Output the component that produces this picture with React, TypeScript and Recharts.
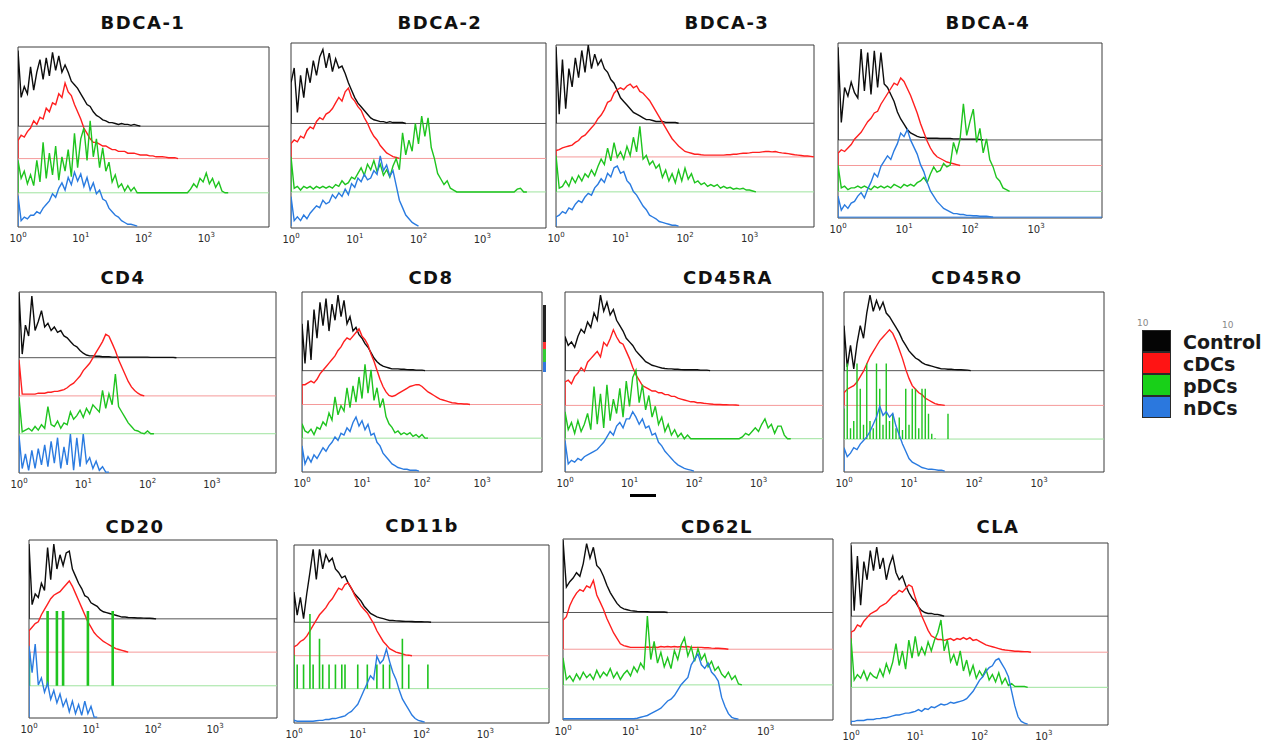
import React from 'react';
import { LineChart, Line, XAxis, YAxis, ReferenceLine, ReferenceArea } from 'recharts';

// Fluorescence axis: 20 channels per decade, 10^0 .. 10^4
const CHANNELS_PER_DECADE = 20;
const CHANNEL_MAX = 80;
const TICK_EXPONENTS = [0, 1, 2, 3];

const POPULATIONS = ['Control', 'cDCs', 'pDCs', 'nDCs'];
const PANEL_TITLES = ['BDCA-1', 'BDCA-2', 'BDCA-3', 'BDCA-4', 'CD4', 'CD8', 'CD45RA', 'CD45RO', 'CD20', 'CD11b', 'CD62L', 'CLA'];

// Event counts per channel (as % of panel height), starting at channel 0.
const bdca1Control = [42, 16, 22, 18, 33, 20, 30, 37, 26, 38, 28, 41, 31, 39, 30, 34, 30, 25, 23, 21, 18, 15, 12, 11, 8, 6, 5, 3.5, 3, 2, 2, 1.5, 1, 1.5, 1, 1, 0.5, 1, 0.5];
const bdca1Cdc = [10, 13, 12, 15, 17, 21, 19, 23, 22, 28, 26, 31, 30, 36, 34, 42, 37, 35, 30, 26, 22, 17, 14, 11, 9, 9, 8, 7, 7, 6, 5, 5, 4, 4, 4, 3, 3, 3, 2.5, 2, 2, 2, 1.5, 1.5, 1, 1, 1, 0.8, 0.5, 0.5, 0.5];
const bdca1Pdc = [18, 8, 12, 5, 10, 4, 18, 6, 28, 8, 22, 10, 26, 7, 20, 12, 24, 9, 33, 14, 30, 36, 18, 40, 20, 30, 14, 25, 12, 17, 6, 10, 3, 5, 1, 4, 1, 3, 0, 0, 0, 0, 0, 0, 0, 0, 0, 0, 0, 0, 0, 0, 0, 0, 0, 2, 5, 3, 8, 6, 11, 5, 8, 3, 6, 1, 0];
const bdca1Ndc = [17, 3, 5, 4, 6, 6, 8, 7, 10, 12, 14, 18, 16, 21, 24, 20, 27, 23, 30, 25, 29, 22, 27, 20, 24, 18, 20, 15, 14, 10, 8, 6, 5, 3, 2, 1, 1, 0.5];

const bdca2Control = [22, 30, 6, 26, 14, 30, 22, 34, 26, 36, 40, 30, 38, 28, 35, 30, 31, 27, 22, 18, 14, 11, 9, 7, 5, 3, 2, 1.5, 1, 1, 0.5, 1, 0.5, 0.5, 0.5, 0.5];
const bdca2Cdc = [8, 10, 9, 12, 11, 15, 17, 16, 20, 22, 21, 24, 25, 27, 30, 33, 31, 36, 38, 33, 31, 28, 26, 22, 19, 15, 12, 10, 7, 5, 3, 2, 1, 0.5];
const bdca2Pdc = [19, 2, 3, 1, 3, 2, 3, 1.5, 3, 2, 3, 2, 3, 2, 4, 3, 6, 4, 5, 8, 7, 10, 13, 9, 15, 12, 17, 11, 15, 9, 12, 8, 14, 18, 12, 32, 20, 28, 22, 37, 26, 41, 30, 40, 24, 18, 10, 7, 4, 6, 2, 1, 0, 0, 0, 0, 0, 0, 0, 0, 0, 0, 0, 0, 0, 0, 0, 0, 0, 0, 0, 1.5, 2, 0];
const bdca2Ndc = [16, 3, 5, 3, 6, 4, 7, 9, 11, 10, 14, 12, 13, 17, 15, 18, 16, 20, 17, 23, 21, 26, 24, 28, 25, 26, 30, 28, 38, 30, 33, 27, 30, 22, 14, 10, 6, 4, 2, 1];

const bdca3Control = [42, 5, 35, 8, 30, 20, 36, 25, 40, 28, 43, 30, 38, 32, 35, 30, 28, 24, 22, 18, 14, 12, 10, 8, 6, 5, 4, 3, 2, 2, 1.5, 1, 1, 1, 0.5, 0.5, 0.5, 0.5];
const bdca3Cdc = [3.5, 4, 5, 5.5, 6, 6.5, 8, 9, 11, 12, 14, 16, 18, 21, 23, 26, 30, 31, 35, 37, 38, 37, 39, 40, 38, 39, 36, 35, 33, 31, 28, 25, 22, 19, 16, 13, 10, 8, 6, 4.5, 3, 2.5, 2, 1.5, 1.5, 1.2, 1, 1, 1, 1, 1, 1, 1, 1.2, 1.2, 1.5, 1.5, 1.8, 2, 2, 2.2, 2.5, 2.5, 2.5, 2.8, 3, 3, 2.8, 3, 2.5, 2.2, 2, 1.8, 1.5, 1.2, 1, 0.8, 0.5, 0.5, 0.3];
const bdca3Pdc = [20, 2, 3, 6, 3, 8, 5, 9, 6, 10, 8, 12, 9, 14, 18, 15, 24, 17, 27, 19, 22, 18, 25, 20, 30, 22, 36, 18, 20, 15, 17, 13, 15, 8, 12, 6, 10, 5, 12, 6, 13, 7, 10, 5, 6, 4, 5, 3, 4, 3, 4, 2, 3, 2, 2.5, 1.5, 2, 1.5, 2, 1, 1, 0.5];
const bdca3Ndc = [5, 6, 8, 7, 10, 9, 12, 14, 13, 16, 18, 17, 21, 23, 26, 24, 29, 27, 32, 33, 29, 30, 25, 23, 19, 17, 14, 11, 9, 6, 5, 4, 2.5, 2, 1.5, 1, 0.5, 0.5];

const bdca4Control = [53, 10, 30, 25, 33, 27, 24, 52, 28, 50, 26, 51, 30, 50, 32, 30, 26, 22, 16, 12, 9, 6, 4, 3, 2, 1.5, 1.5, 1, 1, 1, 1, 0.8, 0.8, 0.8, 0.8, 0.6, 0.6, 0.6, 0.5, 0.5, 0.5, 0.5, 0.5, 0.3];
const bdca4Cdc = [7, 9, 8, 10, 12, 15, 17, 19, 22, 25, 27, 30, 31, 35, 38, 41, 44, 47, 46, 50, 48, 44, 40, 35, 30, 24, 19, 14, 10, 7, 5, 4, 3, 2, 1.5, 1, 0.5];
const bdca4Pdc = [15, 2, 3, 1, 2, 2, 3, 2, 3, 2, 1, 3, 2, 3, 2, 3, 2, 4, 3, 2, 4, 3, 4, 3, 5, 6, 8, 5, 10, 14, 11, 12, 16, 14, 15, 28, 22, 30, 50, 32, 40, 47, 28, 36, 22, 30, 18, 14, 8, 6, 2, 1];
const bdca4Ndc = [12, 4, 7, 5, 8, 9, 12, 14, 11, 16, 20, 25, 23, 29, 32, 35, 33, 38, 42, 48, 46, 50, 44, 40, 36, 30, 26, 20, 15, 12, 9, 7, 5, 4, 3, 2, 2, 1.5, 1.5, 1, 1, 0.8, 0.8, 0.5, 0.5, 0.5, 0.3];

const cd4Control = [36, 2, 18, 12, 34, 15, 20, 26, 17, 19, 15, 17, 14, 15, 12, 11, 9, 7, 6, 4, 2.5, 1.5, 1, 1, 0.8, 0.8, 0.5, 0.5, 0.5, 0.3, 0.3, 0.3, 0.3, 0.3, 0.3, 0.3, 0.3, 0.3, 0.3, 0.3, 0.3, 0.2, 0.2, 0.2, 0.2, 0.2, 0.2, 0.2, 0.2];
const cd4Cdc = [20, 1, 1, 1, 1, 1, 1.5, 1.5, 1.5, 2, 2, 2.5, 2.5, 3, 3.5, 4.5, 6, 7, 9, 11, 14, 16, 18, 21, 24, 27, 30, 34, 33, 29, 25, 20, 16, 12, 8, 5, 3, 1.5, 0.5];
const cd4Pdc = [20, 1, 2, 3, 1.5, 4, 2, 5, 3, 15, 5, 4, 7, 3, 6, 5, 12, 8, 10, 13, 9, 14, 11, 16, 14, 12, 24, 14, 22, 16, 33, 15, 12, 9, 6, 4, 2, 1.5, 0.5, 0, 1.5, 0];
const cd4Ndc = [20, 2, 10, 1, 12, 2, 13, 4, 15, 3, 17, 5, 19, 2, 14, 4, 21, 1, 19, 3, 21, 5, 8, 2, 6, 1, 3, 0];

const cd8Control = [26, 4, 28, 6, 34, 18, 38, 25, 40, 22, 37, 28, 42, 30, 39, 26, 30, 22, 24, 20, 18, 15, 13, 10, 7, 5, 3.5, 2.5, 2, 1.5, 1, 1, 1, 0.8, 0.8, 0.6, 0.5, 0.5, 0.3, 0.3, 0.3];
const cd8Cdc = [11, 11, 12, 13, 12, 14, 17, 19, 21, 23, 25, 27, 30, 32, 35, 37, 36, 38, 40, 42, 38, 36, 33, 28, 24, 19, 14, 10, 7, 5, 4.5, 5, 6, 7, 8, 9, 10, 10.5, 11, 11, 10, 8.5, 7, 6, 5, 4, 3, 2.5, 2, 1.5, 1, 0.8, 0.5, 0.5, 0.3, 0.3];
const cd8Pdc = [8, 4, 3, 5, 2, 6, 5, 9, 7, 14, 10, 23, 13, 18, 15, 28, 17, 29, 20, 34, 22, 41, 25, 38, 21, 28, 17, 22, 12, 8, 6, 3, 4, 2, 3, 2, 3, 1, 2, 0.5, 2, 0];
const cd8Ndc = [14, 4, 8, 5, 9, 7, 10, 13, 11, 14, 16, 19, 17, 21, 20, 24, 22, 27, 30, 25, 28, 23, 26, 20, 21, 16, 14, 10, 8, 6, 4, 3, 2, 1.5, 1, 1, 0.5, 0.5, 0.5];

const cd45raControl = [19, 14, 16, 13, 19, 23, 21, 27, 24, 32, 28, 42, 33, 38, 31, 34, 28, 25, 22, 18, 16, 14, 11, 9, 7, 5, 4, 3, 2.5, 2, 1.5, 1.2, 1, 1, 0.8, 0.8, 0.6, 0.5, 0.5, 0.5, 0.5, 0.5, 0.3, 0.3, 0.3];
const cd45raCdc = [13, 14, 12, 16, 18, 21, 19, 24, 26, 28, 30, 27, 35, 33, 37, 42, 38, 35, 34, 30, 26, 21, 17, 14, 11, 10, 9, 8, 8, 7, 7, 6, 6, 5, 5, 4, 3.5, 3, 2.5, 2, 2, 1.5, 1.5, 1.2, 1, 0.8, 0.6, 0.5, 0.5, 0.4, 0.4, 0.3, 0.3, 0.2];
const cd45raPdc = [15, 5, 9, 3, 10, 4, 8, 14, 5, 29, 8, 25, 6, 30, 10, 22, 14, 28, 12, 32, 18, 34, 38, 20, 30, 16, 24, 12, 18, 8, 12, 4, 8, 2, 5, 1, 3, 0, 2, 0, 0, 0, 0, 0, 0, 0, 0, 0, 0, 0, 0, 0, 0, 0, 0, 1, 3, 2, 4, 6, 4, 8, 11, 6, 8, 3, 7, 7, 2, 0];
const cd45raNdc = [17, 4, 6, 5, 7, 6, 8, 9, 10, 11, 12, 14, 16, 19, 22, 20, 25, 27, 24, 29, 29, 33, 30, 26, 29, 24, 25, 20, 21, 16, 14, 11, 9, 7, 5, 3.5, 2.5, 1.5, 1, 0.5];

const cd45roControl = [25, 2, 14, 1, 15, 25, 18, 32, 42, 33, 39, 34, 38, 32, 30, 27, 24, 21, 17, 14, 11, 9, 7, 6, 4.5, 3.5, 3, 2.5, 2, 1.5, 1, 1, 0.8, 0.8, 0.6, 0.5, 0.5, 0.4, 0.3];
const cd45roCdc = [7, 9, 10, 11, 13, 16, 19, 23, 27, 30, 33, 36, 38, 40, 42, 40, 36, 31, 26, 20, 15, 11, 9, 7, 6, 4, 3, 2, 1, 0.5, 0.3];
const cd45roPdc = [17, 42, 6, 10, 42, 28, 8, 42, 10, 6, 42, 28, 8, 42, 10, 14, 6, 12, 5, 28, 8, 28, 28, 6, 28, 28, 14, 3, 0.5, 0, 0, 0, 14, 0];
const cd45roNdc = [13, 8, 10, 13, 12, 15, 17, 19, 22, 26, 30, 36, 31, 33, 30, 32, 25, 20, 15, 11, 7, 5, 4, 3, 2, 1.5, 1, 1, 0.8, 0.5, 0.5];

const cd20Control = [42, 8, 14, 12, 20, 16, 40, 22, 42, 28, 36, 30, 37, 38, 28, 24, 20, 17, 13, 12, 9, 8, 7, 5, 4, 3.5, 3, 2.5, 2, 1.5, 1, 1, 0.8, 0.7, 0.6, 0.5, 0.5, 0.4, 0.3, 0.3, 0.2];
const cd20Cdc = [12, 14, 16, 17, 21, 24, 27, 30, 32, 33, 34, 36, 38, 40, 37, 33, 29, 25, 21, 17, 14, 11, 9, 7.5, 6, 5, 4, 3, 2, 1.5, 1, 0.5];
const cd20Pdc = [19, 0, 0, 0, 0, 0, 42, 0, 0, 42, 0, 42, 0, 0, 0, 0, 0, 0, 0, 42, 0, 0, 0, 0, 0, 0, 0, 42, 0];
const cd20Ndc = [40, 25, 41, 18, 22, 14, 19, 10, 15, 8, 13, 6, 10, 3, 9, 2, 7, 1, 9, 2, 6, 0];

const cd11bControl = [17, 4, 14, 2, 16, 28, 41, 24, 41, 30, 38, 34, 36, 30, 28, 25, 26, 22, 19, 16, 14, 12, 9, 7, 5, 4, 3, 2.5, 2, 1.5, 1, 1, 0.8, 0.7, 0.6, 0.5, 0.5, 0.4, 0.3, 0.3, 0.3, 0.2, 0.2];
const cd11bCdc = [5, 6, 8, 9, 11, 14, 17, 20, 23, 25, 27, 30, 32, 35, 38, 37, 40, 41, 38, 34, 31, 28, 26, 24, 21, 18, 14, 11, 8, 6, 4, 3, 2, 1.5, 1, 0.5, 0.3];
const cd11bPdc = [19, 13.5, 0, 13.5, 0, 42, 13.5, 0, 28, 13.5, 0, 13.5, 0, 13.5, 0, 13.5, 13.5, 0, 0, 0, 13.5, 0, 0, 13.5, 0, 0, 13.5, 0, 13.5, 0, 13.5, 0, 0, 0, 28, 0, 13.5, 0, 0, 0, 0, 0, 13.5, 0];
const cd11bNdc = [1, 0.5, 0.5, 0.5, 0.5, 0.5, 0.5, 0.8, 1, 1, 1.5, 1.5, 2, 2, 2.5, 3, 3.5, 5, 6, 8, 10, 14, 18, 22, 26, 24, 37, 33, 35, 41, 34, 28, 24, 18, 13, 10, 7, 4, 2, 1, 0.5];

const cd62lControl = [40, 14, 17, 19, 22, 20, 27, 38, 30, 36, 26, 24, 20, 15, 11, 8, 5, 3, 2, 1.5, 1, 0.8, 0.6, 0.5, 0.5, 0.4, 0.3, 0.3, 0.3, 0.3, 0.3];
const cd62lCdc = [16, 18, 24, 28, 31, 33, 32, 35, 34, 38, 30, 26, 22, 17, 13, 9, 6, 3, 2, 1.5, 1, 1, 1, 1, 1, 1.2, 1, 1.2, 1, 1.5, 1.2, 1.5, 1.2, 1.5, 1.2, 1.5, 1.2, 1.5, 1, 1, 1, 1, 0.8, 0.8, 0.6, 0.5, 0.5, 0.4, 0.3];
const cd62lPdc = [15, 3, 5, 2, 6, 3, 7, 4, 6, 3, 8, 4, 7, 5, 9, 4, 7, 3, 6, 8, 5, 10, 7, 12, 9, 38, 14, 24, 12, 18, 10, 15, 9, 19, 14, 22, 26, 16, 21, 13, 20, 14, 17, 10, 13, 8, 10, 6, 4, 7, 3, 5, 0.5];
const cd62lNdc = [0.2, 0.2, 0.2, 0.2, 0.2, 0.2, 0.2, 0.2, 0.2, 0.2, 0.2, 0.2, 0.2, 0.2, 0.2, 0.2, 0.2, 0.2, 0.2, 0.2, 0.2, 0.2, 0.5, 1, 1.5, 2, 3, 4, 5, 6, 8, 10, 11, 13, 16, 19, 21, 23, 30, 33, 36, 30, 28, 31, 26, 24, 21, 12, 7, 3, 1, 0.3];

const claControl = [39, 3, 33, 6, 30, 20, 36, 25, 38, 26, 32, 20, 28, 33, 24, 20, 22, 17, 13, 10, 8, 5, 3, 2, 1.5, 1.5, 1, 1, 0.5];
const claCdc = [11, 12, 15, 14, 17, 19, 21, 22, 23, 25, 26, 27, 29, 31, 32, 34, 33, 35, 37, 36, 30, 25, 20, 16, 12, 9, 8, 7, 7, 6.5, 7, 7.5, 6.5, 7.5, 7, 8, 7, 8, 6.5, 7, 6, 5, 4, 3.5, 3, 2.5, 2, 1.5, 1.2, 1, 0.8, 0.5, 0.5, 0.4, 0.3, 0.3];
const claPdc = [27, 4, 7, 5, 9, 4, 8, 6, 5, 10, 6, 13, 8, 14, 24, 12, 20, 10, 26, 16, 28, 17, 22, 18, 25, 20, 26, 30, 37, 20, 26, 14, 18, 12, 20, 9, 15, 7, 12, 5, 9, 6, 10, 4, 7, 3, 8, 2, 5, 1, 2, 0.5, 0.5, 0.5, 0.5];
const claNdc = [1.5, 1.5, 2, 2, 2, 2.5, 2.5, 2.5, 3, 3, 3.5, 3.5, 4, 4.5, 5, 5, 5.5, 6, 6, 6.5, 7, 8, 7, 8.5, 8, 9.5, 9, 10, 11, 10.5, 11, 12, 11.5, 12, 12.5, 13, 14, 16, 18, 21, 24, 26, 29, 31, 32, 35, 36, 33, 30, 26, 18, 10, 4, 1.5, 0.5];

const PANEL_SERIES = [
  [bdca1Control, bdca1Cdc, bdca1Pdc, bdca1Ndc],
  [bdca2Control, bdca2Cdc, bdca2Pdc, bdca2Ndc],
  [bdca3Control, bdca3Cdc, bdca3Pdc, bdca3Ndc],
  [bdca4Control, bdca4Cdc, bdca4Pdc, bdca4Ndc],
  [cd4Control, cd4Cdc, cd4Pdc, cd4Ndc],
  [cd8Control, cd8Cdc, cd8Pdc, cd8Ndc],
  [cd45raControl, cd45raCdc, cd45raPdc, cd45raNdc],
  [cd45roControl, cd45roCdc, cd45roPdc, cd45roNdc],
  [cd20Control, cd20Cdc, cd20Pdc, cd20Ndc],
  [cd11bControl, cd11bCdc, cd11bPdc, cd11bNdc],
  [cd62lControl, cd62lCdc, cd62lPdc, cd62lNdc],
  [claControl, claCdc, claPdc, claNdc],
];

// ---- layout ----
// Plot frame [left, top, right, bottom] in page pixels
const PANEL_BOXES = [
  [18, 47, 269, 227], [291, 43, 546, 228], [556, 45, 814, 227], [838, 43, 1102, 218],
  [19, 292, 276, 473], [302, 292, 542, 472], [565, 292, 823, 472], [844, 292, 1104, 472],
  [29, 540, 277, 718], [294, 545, 549, 723], [563, 539, 833, 720], [851, 543, 1108, 725],
];
const TITLE_CENTERS = [
  [143, 23], [440, 23], [727, 23], [988, 23],
  [123, 278], [431, 278], [728, 278], [977, 278],
  [135, 527], [422, 526], [717, 527], [998, 527],
];
// Vertical offset of each population's trace (% of panel height)
const OFFSETS = [
  [56, 38, 19, 0.5], [56.5, 37.6, 19.5, 1], [57, 38.5, 19.3, 0.5], [44.6, 30, 15.2, 0.5],
  [63.7, 42.6, 21.7, 0.5], [56.3, 37.5, 18.8, 0.5], [56.3, 37, 18.5, 0.5], [56.3, 37, 18.3, 0.5],
  [55.7, 37, 18.1, 0.5], [56.6, 37.8, 19.3, 0.5], [59.4, 39.1, 19.4, 0.5], [59.8, 40, 20.7, 0.5],
];
// Sparse pDC traces drawn as vertical spikes, one per channel (value = stroke width)
const SPIKE_TRACES: Record<string, number> = { CD45RO: 1.4, CD20: 2.6, CD11b: 1.6 };
const LINE_COLORS = ['#0d0d0d', '#ff1f1f', '#1fc41f', '#2a7be0'];
const BASELINE_COLORS = ['#555555', '#f59a9a', '#9ee39e', '#2a7be0'];
const PAD_X = 12;
const PAD_TOP = 6;
const AXIS_H = 22;
const FONT = '"DejaVu Sans", Verdana, sans-serif';

const TICKS = TICK_EXPONENTS.map((e) => e * CHANNELS_PER_DECADE);

function LogTick(props: any) {
  const { x, y, payload } = props;
  const exp = Math.round(payload.value / CHANNELS_PER_DECADE);
  return (
    <text x={x} y={y + 15} textAnchor="middle" fill="#2a2a2a" fontSize={10} fontFamily={FONT}>
      <tspan>10</tspan>
      <tspan dy={-5} fontSize={7}>{exp}</tspan>
    </text>
  );
}

// Histogram trace lifted to its own baseline
function toPoints(counts: number[], offset: number) {
  const pts = [{ ch: 0, v: offset }];
  counts.forEach((c, i) => pts.push({ ch: i, v: offset + c }));
  pts.push({ ch: counts.length, v: offset });
  return pts;
}

// Sparse trace: each occupied channel is a separate spike rising from the baseline
function toSpikes(counts: number[], offset: number) {
  const pts: { ch: number; v: number | null }[] = [];
  counts.forEach((c, i) => {
    if (c > 0) {
      pts.push({ ch: i, v: offset });
      pts.push({ ch: i, v: offset + c });
      pts.push({ ch: i, v: null });
    }
  });
  return pts;
}

function Panel({ index }: { index: number }) {
  const [L, T, R, B] = PANEL_BOXES[index];
  const title = PANEL_TITLES[index];
  const offsets = OFFSETS[index];
  const series = PANEL_SERIES[index];
  const [tx, ty] = TITLE_CENTERS[index];
  const w = R - L + PAD_X * 2;
  const h = B - T + PAD_TOP + AXIS_H;
  const spikeWidth = SPIKE_TRACES[title];
  return (
    <>
      <div
        style={{
          position: 'absolute', left: tx - 100, top: ty - 12, width: 200, textAlign: 'center',
          fontFamily: FONT, fontWeight: 'bold', fontSize: 18, letterSpacing: 1.5, lineHeight: '24px', color: '#111',
        }}
      >
        {title}
      </div>
      <div style={{ position: 'absolute', left: L - PAD_X, top: T - PAD_TOP }}>
        <LineChart width={w} height={h} margin={{ top: PAD_TOP, right: PAD_X, bottom: 0, left: PAD_X }}>
          <XAxis
            dataKey="ch" type="number" domain={[0, CHANNEL_MAX]} ticks={TICKS} interval={0}
            tick={<LogTick />} axisLine={false} tickLine={false} tickSize={0} tickMargin={0}
            height={AXIS_H} allowDataOverflow
          />
          <YAxis hide type="number" domain={[0, 100]} allowDataOverflow />
          <ReferenceArea x1={0} x2={CHANNEL_MAX} y1={0} y2={100} fill="none" stroke="#3c3c3c" strokeWidth={1} />
          {offsets.map((o, s) =>
            s < 3 || title === 'BDCA-4' ? (
              <ReferenceLine key={`b${s}`} y={o} stroke={BASELINE_COLORS[s]} strokeWidth={1} />
            ) : null
          )}
          {series.map((counts, s) => {
            const spiky = spikeWidth !== undefined && s === 2;
            return (
              <Line
                key={POPULATIONS[s]}
                name={POPULATIONS[s]}
                data={spiky ? toSpikes(counts, offsets[s]) : toPoints(counts, offsets[s])}
                dataKey="v"
                type="linear"
                connectNulls={false}
                stroke={LINE_COLORS[s]}
                strokeWidth={spiky ? spikeWidth : 1.4}
                dot={false}
                activeDot={false}
                isAnimationActive={false}
              />
            );
          })}
        </LineChart>
      </div>
    </>
  );
}

const LEGEND_FILLS = ['#050505', '#ff1414', '#18d018', '#2b78de'];

function Legend() {
  return (
    <div style={{ position: 'absolute', left: 1142, top: 330 }}>
      {POPULATIONS.map((p, i) => (
        <div key={p} style={{ position: 'absolute', left: 0, top: i * 22, height: 22, width: 130 }}>
          <div
            style={{
              position: 'absolute', left: 0, top: 0, width: 29, height: 22, boxSizing: 'border-box',
              background: LEGEND_FILLS[i], border: '1.5px solid #2a2a2a',
            }}
          />
          <div
            style={{
              position: 'absolute', left: 41, top: 0, lineHeight: '24px', fontFamily: FONT,
              fontWeight: 'bold', fontSize: 19, color: '#1a1a1a',
            }}
          >
            {p}
          </div>
        </div>
      ))}
    </div>
  );
}

export default function App() {
  return (
    <div style={{ position: 'absolute', left: 0, top: 0, width: 1271, height: 745, background: '#fff', overflow: 'hidden' }}>
      {PANEL_TITLES.map((t, i) => (
        <Panel key={t} index={i} />
      ))}
      <Legend />
      <div style={{ position: 'absolute', left: 1137, top: 318, fontFamily: FONT, fontSize: 9, color: '#888' }}>10</div>
      <div style={{ position: 'absolute', left: 1222, top: 320, fontFamily: FONT, fontSize: 9, color: '#888' }}>10</div>
      <div style={{ position: 'absolute', left: 630, top: 494, width: 26, height: 3, background: '#000' }} />
      <div style={{ position: 'absolute', left: 543, top: 305, width: 3, height: 37, background: '#222' }} />
      <div style={{ position: 'absolute', left: 543, top: 342, width: 3, height: 7, background: '#f33' }} />
      <div style={{ position: 'absolute', left: 543, top: 349, width: 3, height: 13, background: '#3c3' }} />
      <div style={{ position: 'absolute', left: 543, top: 362, width: 3, height: 10, background: '#37d' }} />
    </div>
  );
}
